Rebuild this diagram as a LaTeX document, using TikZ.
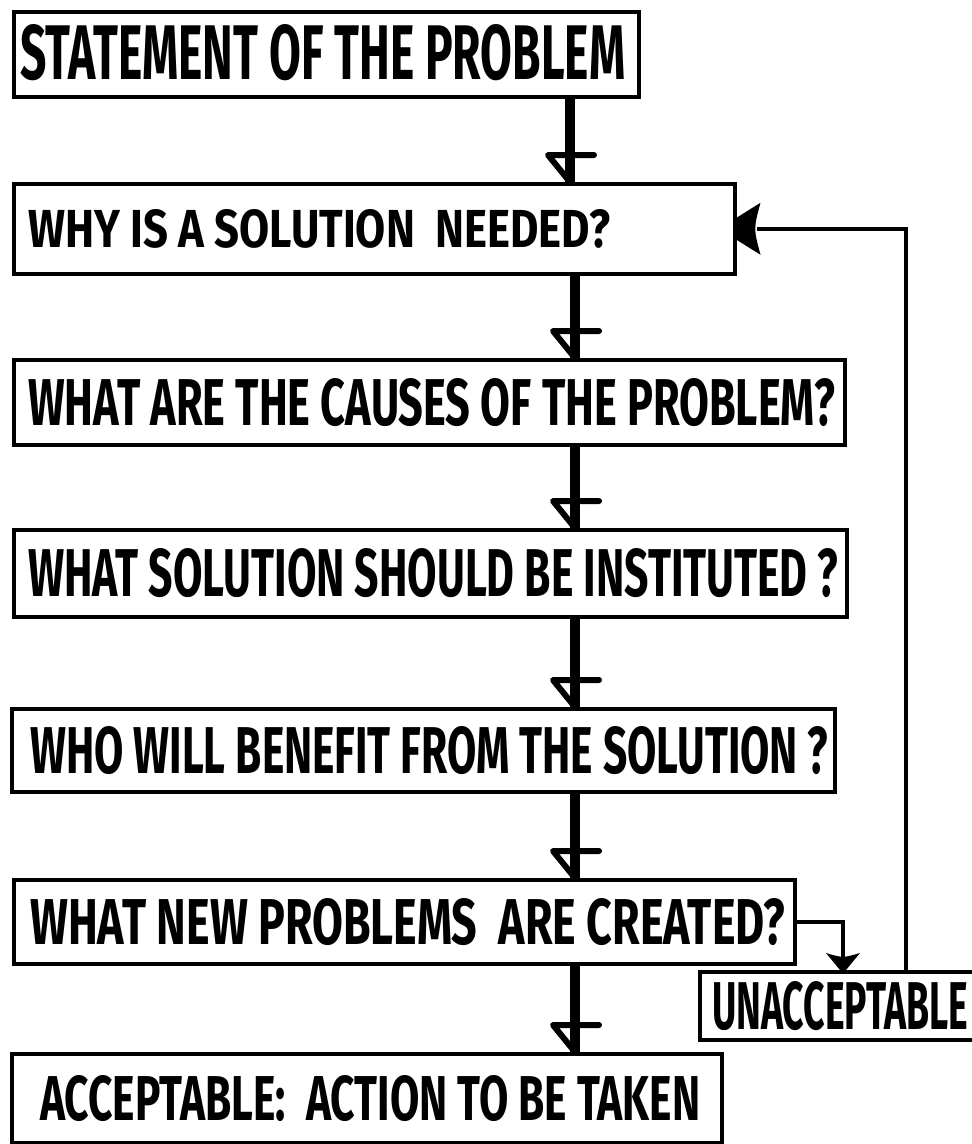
\documentclass[tikz,border=0pt]{standalone}
\usepackage{fontspec}
\setmainfont{Fira Sans}
\usepackage{graphicx}
\tikzset{
  box/.style={draw, line width=3.5pt, inner sep=0pt, anchor=north west},
  lbl/.style={inner sep=0pt, anchor=west},
  mainline/.style={line width=10pt},
  headline/.style={line width=6pt, line join=round, line cap=round},
  thinline/.style={line width=3.5pt},
}
\newcommand\flowarrow[3]{%
  \coordinate (#2tip) at (#2.north -| #3);
  \draw[mainline] (#1.south -| #3) -- (#2tip);
  \draw[headline] ([xshift=24pt,yshift=27pt]#2tip) -- ([xshift=-22pt,yshift=27pt]#2tip) -- (#2tip);
}
\newcommand\lettering[3]{\resizebox{#1}{#2}{\bfseries #3}}
\begin{document}
\begin{tikzpicture}[x=1pt,y=-1pt]
\clip (0,0) rectangle (972,1144);
\fill[white] (0,0) rectangle (972,1144);

% boxes
\node[box, minimum width=625pt, minimum height=85pt] (b1) at (12,10) {};
\node[box, minimum width=721pt, minimum height=90pt] (b2) at (12,182) {};
\node[box, minimum width=831pt, minimum height=85pt] (b3) at (12,358) {};
\node[box, minimum width=833pt, minimum height=87pt] (b4) at (12,528) {};
\node[box, minimum width=823pt, minimum height=83pt] (b5) at (10,707) {};
\node[box, minimum width=781pt, minimum height=84pt] (b6) at (12,878) {};
\node[box, minimum width=280pt, minimum height=68pt] (ua) at (698,970) {};
\node[box, minimum width=710pt, minimum height=89pt] (b7) at (10,1052) {};

% lettering
\node[lbl] (t1) at ([xshift=8pt,yshift=2pt]b1.west) {\lettering{605pt}{55pt}{STATEMENT OF THE PROBLEM}};
\node[lbl] (t2) at ([xshift=16pt]b2.west) {\lettering{582pt}{38pt}{WHY IS A SOLUTION \ NEEDED?}};
\node[lbl] (t3) at ([xshift=16pt]b3.west) {\lettering{807pt}{47pt}{WHAT ARE THE CAUSES OF THE PROBLEM?}};
\node[lbl] (t4) at ([xshift=16pt]b4.west) {\lettering{810pt}{48pt}{WHAT SOLUTION SHOULD BE INSTITUTED ?}};
\node[lbl] (t5) at ([xshift=20pt]b5.west) {\lettering{798pt}{47pt}{WHO WILL BENEFIT FROM THE SOLUTION ?}};
\node[lbl] (t6) at ([xshift=18pt]b6.west) {\lettering{755pt}{46pt}{WHAT NEW PROBLEMS \ ARE CREATED?}};
\node[lbl] (t7) at ([xshift=14pt]ua.west) {\lettering{256pt}{48pt}{UNACCEPTABLE}};
\node[lbl] (t8) at ([xshift=30pt]b7.west) {\lettering{660pt}{45pt}{ACCEPTABLE: \ ACTION TO BE TAKEN}};

% main flow
\coordinate (axa) at (570,0);
\coordinate (axb) at (575,0);
\flowarrow{b1}{b2}{axa}
\flowarrow{b2}{b3}{axb}
\flowarrow{b3}{b4}{axb}
\flowarrow{b4}{b5}{axb}
\flowarrow{b5}{b6}{axb}
\flowarrow{b6}{b7}{axb}

% branch to UNACCEPTABLE
\coordinate (brx) at (843,0);
\coordinate (uatip) at (ua.north -| brx);
\draw[thinline] (b6.east) -| ([yshift=10pt]uatip);
\fill ([xshift=-3pt]uatip) -- ([xshift=-17pt,yshift=17pt]uatip)
  .. controls ([yshift=12pt]uatip) .. ([xshift=17pt,yshift=17pt]uatip)
  -- ([xshift=3pt]uatip) -- cycle;

% feedback loop
\coordinate (fbx) at (906,0);
\draw[thinline] (ua.north -| fbx) |- ([xshift=20pt]b2.east);
\fill ([yshift=11pt]b2.east) -- ([xshift=24pt,yshift=26pt]b2.east)
  .. controls ([xshift=17pt]b2.east) .. ([xshift=24pt,yshift=-26pt]b2.east)
  -- ([yshift=-11pt]b2.east) -- cycle;
\end{tikzpicture}
\end{document}
